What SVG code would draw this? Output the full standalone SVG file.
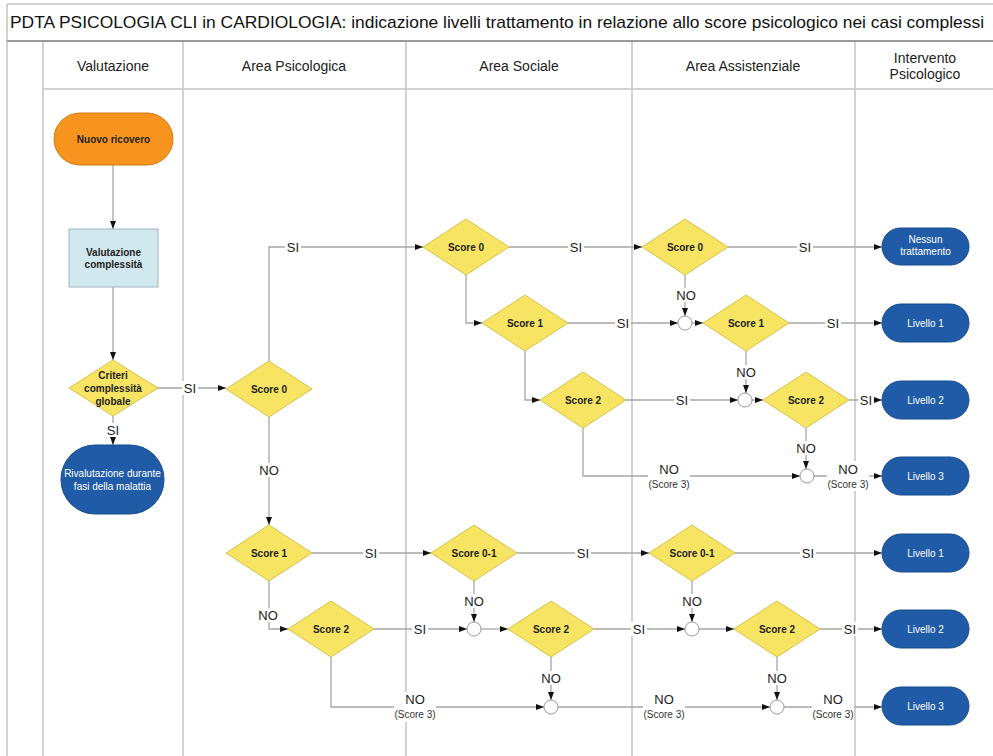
<svg xmlns="http://www.w3.org/2000/svg" width="993" height="756" viewBox="0 0 993 756">
<style>
.lane{stroke:#c4c4c4;stroke-width:1.5;fill:none}
.title{font:17px "Liberation Sans",Arial,sans-serif;fill:#111}
.hdr{font:14px "Liberation Sans",Arial,sans-serif;fill:#222;text-anchor:middle}
.dia{fill:#f6e462;stroke:#d6c24a;stroke-width:1}
.term{fill:#1f5ba6;stroke:#184d8f;stroke-width:1}
.circ{fill:#fff;stroke:#999;stroke-width:1}
.nt{font:bold 10px "Liberation Sans",Arial,sans-serif;fill:#222;text-anchor:middle}
.wt{font:10px "Liberation Sans",Arial,sans-serif;fill:#fff;text-anchor:middle}
.cn{stroke:#a6a6a6;stroke-width:1.3;fill:none;marker-end:url(#ah)}
.lb{font:13px "Liberation Sans",Arial,sans-serif;fill:#222;text-anchor:middle}
.ls{font:10px "Liberation Sans",Arial,sans-serif;fill:#333;text-anchor:middle}
.bg{fill:#fff}
</style>
<defs>
<marker id="ah" viewBox="0 0 8 8" refX="8" refY="4" markerWidth="8" markerHeight="8" markerUnits="userSpaceOnUse" orient="auto">
<path d="M0,1 L8,4 L0,7 z" fill="#111"/>
</marker>
</defs>
<rect width="993" height="756" fill="#fff"/>
<g id="frame">
<path class="lane" d="M7,4 H993 M7,4 V756 M43,41 V756 M183,41 V756 M406,41 V756 M632,41 V756 M855,41 V756 M43,89 H993"/>
<path d="M7,41 H993" stroke="#9a9a9a" stroke-width="2"/>
<text class="title" x="10" y="28" textLength="974" lengthAdjust="spacingAndGlyphs">PDTA PSICOLOGIA CLI in CARDIOLOGIA: indicazione livelli trattamento in relazione allo score psicologico nei casi complessi</text>
<text class="hdr" x="113" y="71">Valutazione</text>
<text class="hdr" x="294" y="71">Area Psicologica</text>
<text class="hdr" x="519" y="71">Area Sociale</text>
<text class="hdr" x="743" y="71">Area Assistenziale</text>
<text class="hdr" x="925" y="63">Intervento</text>
<text class="hdr" x="925" y="79">Psicologico</text>
</g>
<g id="connectors">
<path class="cn" d="M113,165 V229"/>
<path class="cn" d="M113,287 V360"/>
<path class="cn" d="M113,416 V445"/>
<path class="cn" d="M157,388 H226"/>
<path class="cn" d="M269,361 V247 H423"/>
<path class="cn" d="M269,417 V525"/>
<path class="cn" d="M509,247 H642"/>
<path class="cn" d="M728,247 H882"/>
<path class="cn" d="M466,275 V323 H482"/>
<path class="cn" d="M568,323 H678"/>
<path class="cn" d="M685,275 V316"/>
<path class="cn" d="M692,323 H703"/>
<path class="cn" d="M789,323 H882"/>
<path class="cn" d="M525,351 V400 H540"/>
<path class="cn" d="M626,400 H738"/>
<path class="cn" d="M746,351 V393"/>
<path class="cn" d="M752,400 H763"/>
<path class="cn" d="M849,400 H882"/>
<path class="cn" d="M583,428 V476 H800"/>
<path class="cn" d="M806,428 V469"/>
<path class="cn" d="M814,476 H882"/>
<path class="cn" d="M312,553 H431"/>
<path class="cn" d="M517,553 H649"/>
<path class="cn" d="M735,553 H882"/>
<path class="cn" d="M269,581 V629 H288"/>
<path class="cn" d="M374,629 H467"/>
<path class="cn" d="M474,581 V622"/>
<path class="cn" d="M481,629 H508"/>
<path class="cn" d="M594,629 H685"/>
<path class="cn" d="M692,581 V622"/>
<path class="cn" d="M699,629 H734"/>
<path class="cn" d="M820,629 H882"/>
<path class="cn" d="M331,657 V707 H544"/>
<path class="cn" d="M551,657 V700"/>
<path class="cn" d="M558,707 H770"/>
<path class="cn" d="M777,657 V700"/>
<path class="cn" d="M784,707 H882"/>
<g id="labels">
<rect class="bg" x="105" y="423" width="16" height="14"/><text class="lb" x="113" y="435">SI</text>
<rect class="bg" x="182" y="381" width="16" height="14"/><text class="lb" x="190" y="393">SI</text>
<rect class="bg" x="285" y="240" width="16" height="14"/><text class="lb" x="293" y="252">SI</text>
<rect class="bg" x="258" y="463" width="22" height="14"/><text class="lb" x="269" y="475">NO</text>
<rect class="bg" x="568" y="240" width="16" height="14"/><text class="lb" x="576" y="252">SI</text>
<rect class="bg" x="797" y="240" width="16" height="14"/><text class="lb" x="805" y="252">SI</text>
<rect class="bg" x="615" y="316" width="16" height="14"/><text class="lb" x="623" y="328">SI</text>
<rect class="bg" x="675" y="288" width="22" height="14"/><text class="lb" x="686" y="300">NO</text>
<rect class="bg" x="825" y="316" width="16" height="14"/><text class="lb" x="833" y="328">SI</text>
<rect class="bg" x="674" y="393" width="16" height="14"/><text class="lb" x="682" y="405">SI</text>
<rect class="bg" x="735" y="365" width="22" height="14"/><text class="lb" x="746" y="377">NO</text>
<rect class="bg" x="858" y="393" width="16" height="14"/><text class="lb" x="866" y="405">SI</text>
<rect class="bg" x="648" y="461" width="42" height="30"/><text class="lb" x="669" y="474">NO</text><text class="ls" x="669" y="488">(Score 3)</text>
<rect class="bg" x="795" y="441" width="22" height="14"/><text class="lb" x="806" y="453">NO</text>
<rect class="bg" x="827" y="461" width="42" height="30"/><text class="lb" x="848" y="474">NO</text><text class="ls" x="848" y="488">(Score 3)</text>
<rect class="bg" x="363" y="546" width="16" height="14"/><text class="lb" x="371" y="558">SI</text>
<rect class="bg" x="575" y="546" width="16" height="14"/><text class="lb" x="583" y="558">SI</text>
<rect class="bg" x="800" y="546" width="16" height="14"/><text class="lb" x="808" y="558">SI</text>
<rect class="bg" x="257" y="608" width="22" height="14"/><text class="lb" x="268" y="620">NO</text>
<rect class="bg" x="412" y="622" width="16" height="14"/><text class="lb" x="420" y="634">SI</text>
<rect class="bg" x="463" y="594" width="22" height="14"/><text class="lb" x="474" y="606">NO</text>
<rect class="bg" x="631" y="622" width="16" height="14"/><text class="lb" x="639" y="634">SI</text>
<rect class="bg" x="681" y="594" width="22" height="14"/><text class="lb" x="692" y="606">NO</text>
<rect class="bg" x="842" y="622" width="16" height="14"/><text class="lb" x="850" y="634">SI</text>
<rect class="bg" x="394" y="692" width="42" height="30"/><text class="lb" x="415" y="704">NO</text><text class="ls" x="415" y="718">(Score 3)</text>
<rect class="bg" x="540" y="671" width="22" height="14"/><text class="lb" x="551" y="683">NO</text>
<rect class="bg" x="643" y="692" width="42" height="30"/><text class="lb" x="664" y="704">NO</text><text class="ls" x="664" y="718">(Score 3)</text>
<rect class="bg" x="766" y="671" width="22" height="14"/><text class="lb" x="777" y="683">NO</text>
<rect class="bg" x="812" y="692" width="42" height="30"/><text class="lb" x="833" y="704">NO</text><text class="ls" x="833" y="718">(Score 3)</text>
</g>
</g>
<g id="n-nuovo"><rect x="54" y="113" width="119" height="52" rx="26" fill="#f7941e" stroke="#d07b16"/><text class="nt" x="113.5" y="143">Nuovo ricovero</text></g>
<g id="n-valcomp"><rect x="69" y="229" width="89" height="58" fill="#d2e8ef" stroke="#9ab3bb"/><text class="nt" x="113.5" y="256">Valutazione</text><text class="nt" x="113.5" y="268">complessità</text></g>
<g id="n-criteri"><polygon class="dia" points="69,388 113,360 158,388 113,416"/><text class="nt" x="113" y="379">Criteri</text><text class="nt" x="113" y="392">complessità</text><text class="nt" x="113" y="405">globale</text></g>
<g id="n-rival"><rect x="61" y="445" width="103" height="69" rx="34" class="term"/><text class="wt" x="112.5" y="477">Rivalutazione durante</text><text class="wt" x="112.5" y="490">fasi della malattia</text></g>
<g id="psi-s0"><polygon class="dia" points="226,389 269,361 312,389 269,417"/><text class="nt" x="269" y="393">Score 0</text></g>
<g id="psi-s1"><polygon class="dia" points="226,553 269,525 312,553 269,581"/><text class="nt" x="269" y="557">Score 1</text></g>
<g id="psi-s2"><polygon class="dia" points="288,629 331,601 374,629 331,657"/><text class="nt" x="331" y="633">Score 2</text></g>
<g id="soc-s0"><polygon class="dia" points="423,247 466,219 509,247 466,275"/><text class="nt" x="466" y="251">Score 0</text></g>
<g id="soc-s1"><polygon class="dia" points="482,323 525,295 568,323 525,351"/><text class="nt" x="525" y="327">Score 1</text></g>
<g id="soc-s2"><polygon class="dia" points="540,400 583,372 626,400 583,428"/><text class="nt" x="583" y="404">Score 2</text></g>
<g id="soc-s01"><polygon class="dia" points="431,553 474,525 517,553 474,581"/><text class="nt" x="474" y="557">Score 0-1</text></g>
<g id="soc-s2b"><polygon class="dia" points="508,629 551,601 594,629 551,657"/><text class="nt" x="551" y="633">Score 2</text></g>
<g id="ass-s0"><polygon class="dia" points="642,247 685,219 728,247 685,275"/><text class="nt" x="685" y="251">Score 0</text></g>
<g id="ass-s1"><polygon class="dia" points="703,323 746,295 789,323 746,351"/><text class="nt" x="746" y="327">Score 1</text></g>
<g id="ass-s2"><polygon class="dia" points="763,400 806,372 849,400 806,428"/><text class="nt" x="806" y="404">Score 2</text></g>
<g id="ass-s01"><polygon class="dia" points="649,553 692,525 735,553 692,581"/><text class="nt" x="692" y="557">Score 0-1</text></g>
<g id="ass-s2b"><polygon class="dia" points="734,629 777,601 820,629 777,657"/><text class="nt" x="777" y="633">Score 2</text></g>
<g id="j1"><circle class="circ" cx="685" cy="323" r="7"/></g>
<g id="j2"><circle class="circ" cx="745" cy="400" r="7"/></g>
<g id="j3"><circle class="circ" cx="807" cy="476" r="7"/></g>
<g id="j4"><circle class="circ" cx="474" cy="629" r="7"/></g>
<g id="j5"><circle class="circ" cx="692" cy="629" r="7"/></g>
<g id="j6"><circle class="circ" cx="551" cy="707" r="7"/></g>
<g id="j7"><circle class="circ" cx="777" cy="707" r="7"/></g>
<g id="t-nessun"><rect class="term" x="882" y="228" width="87" height="37" rx="18.5"/><text class="wt" x="925.5" y="243">Nessun</text><text class="wt" x="925.5" y="255">trattamento</text></g>
<g id="t-l1a"><rect class="term" x="882" y="304" width="87" height="38" rx="19"/><text class="wt" x="925.5" y="327">Livello 1</text></g>
<g id="t-l2a"><rect class="term" x="882" y="381" width="87" height="38" rx="19"/><text class="wt" x="925.5" y="404">Livello 2</text></g>
<g id="t-l3a"><rect class="term" x="882" y="457" width="87" height="38" rx="19"/><text class="wt" x="925.5" y="480">Livello 3</text></g>
<g id="t-l1b"><rect class="term" x="882" y="534" width="87" height="38" rx="19"/><text class="wt" x="925.5" y="557">Livello 1</text></g>
<g id="t-l2b"><rect class="term" x="882" y="610" width="87" height="38" rx="19"/><text class="wt" x="925.5" y="633">Livello 2</text></g>
<g id="t-l3b"><rect class="term" x="882" y="687" width="87" height="38" rx="19"/><text class="wt" x="925.5" y="710">Livello 3</text></g>
</svg>
